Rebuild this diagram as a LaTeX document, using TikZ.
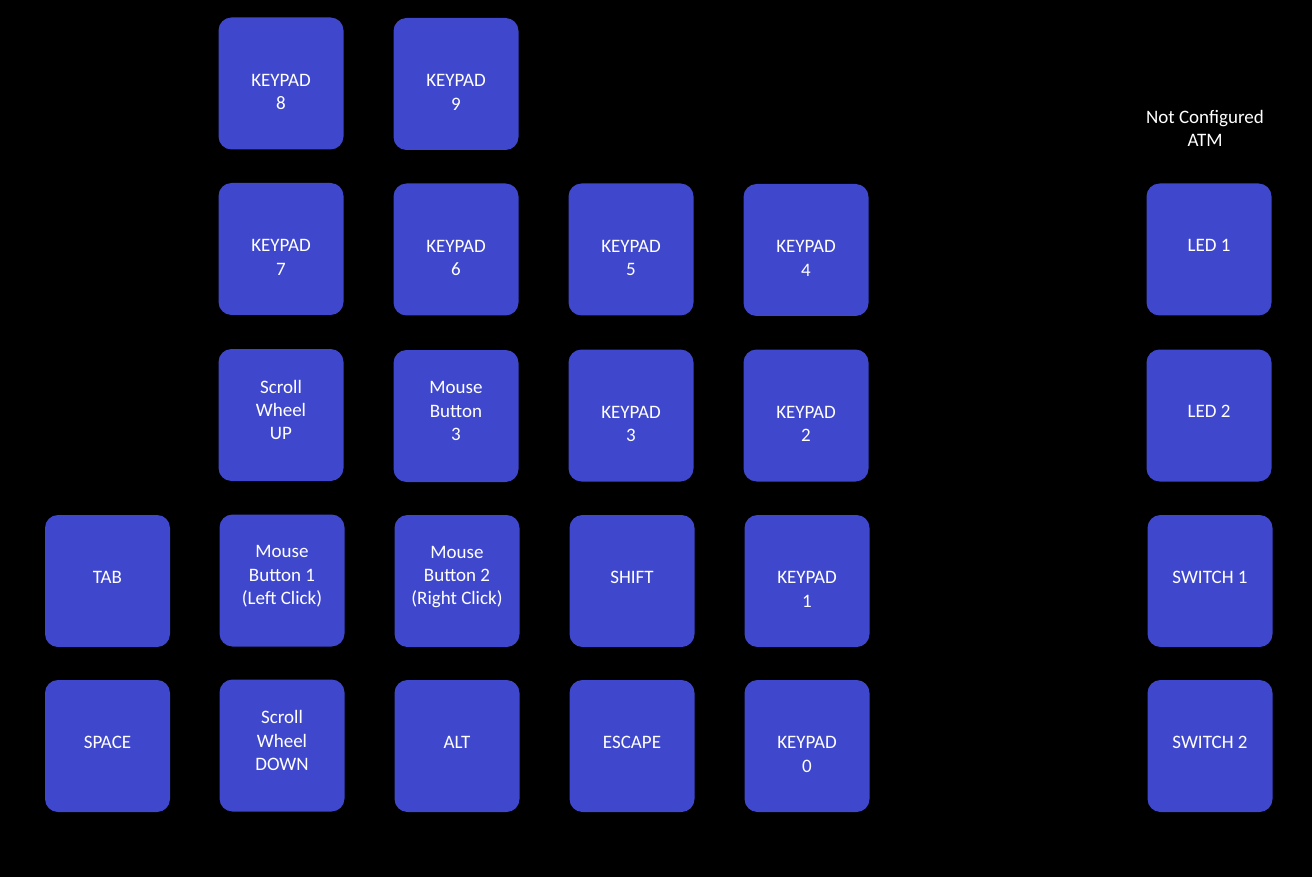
\documentclass[tikz,border=0pt]{standalone}
\usepackage{fontspec}
\setmainfont{Carlito}
\definecolor{keyblue}{HTML}{3F48CC}
\newcommand\kkey[5]{%
  \node[key] (#1) at (#2,#3) {};
  \node[keytext] (#1-t) at ([yshift=#4]#1.center) {#5};}
\begin{document}
\begin{tikzpicture}[x=1pt,y=-1pt,
  key/.style={fill=keyblue, draw=none, rounded corners=13pt, minimum width=125pt, minimum height=132pt, inner sep=0pt},
  keytext/.style={text=white, align=center, font=\fontsize{19}{23.3}\selectfont, inner sep=0pt},
  lbl/.style={keytext}]
\fill[black] (0,0) rectangle (1312,877);
\useasboundingbox (0,0) rectangle (1312,877);
% row 0
\kkey{k8}{281}{83.5}{-8.5pt}{KEYPAD\\8}
\kkey{k9}{456}{84}{-8.5pt}{KEYPAD\\9}
% row 1
\kkey{k7}{281}{249}{-8.5pt}{KEYPAD\\7}
\kkey{k6}{456}{249.5}{-8.5pt}{KEYPAD\\6}
\kkey{k5}{631}{249.5}{-8.5pt}{KEYPAD\\5}
\kkey{k4}{806}{250}{-8.5pt}{KEYPAD\\4}
\kkey{led1}{1209}{249.5}{4pt}{LED 1}
% row 2
\kkey{su}{281}{415}{5pt}{Scroll\\Wheel\\UP}
\kkey{mb3}{456}{416}{5pt}{Mouse\\Button\\3}
\kkey{k3}{631}{415.5}{-8.5pt}{KEYPAD\\3}
\kkey{k2}{806}{415.5}{-8.5pt}{KEYPAD\\2}
\kkey{led2}{1209}{415.5}{4pt}{LED 2}
% row 3
\kkey{tab}{107.5}{581}{4pt}{TAB}
\kkey{mb1}{282}{580.5}{4pt}{Mouse\\Button 1\\(Left Click)}
\kkey{mb2}{457}{581}{4pt}{Mouse\\Button 2\\(Right Click)}
\kkey{shift}{632}{581}{4pt}{SHIFT}
\kkey{k1}{807}{581}{-8.5pt}{KEYPAD\\1}
\kkey{sw1}{1210}{581}{4pt}{SWITCH 1}
% row 4
\kkey{space}{107.5}{746}{4pt}{SPACE}
\kkey{sd}{282}{745.5}{5pt}{Scroll\\Wheel\\DOWN}
\kkey{alt}{457}{746}{4pt}{ALT}
\kkey{esc}{632}{746}{4pt}{ESCAPE}
\kkey{k0}{807}{746}{-8.5pt}{KEYPAD\\0}
\kkey{sw2}{1210}{746}{4pt}{SWITCH 2}
% label
\node[lbl] (nc) at (1205,128.7) {Not Configured\\ATM};
\end{tikzpicture}
\end{document}
